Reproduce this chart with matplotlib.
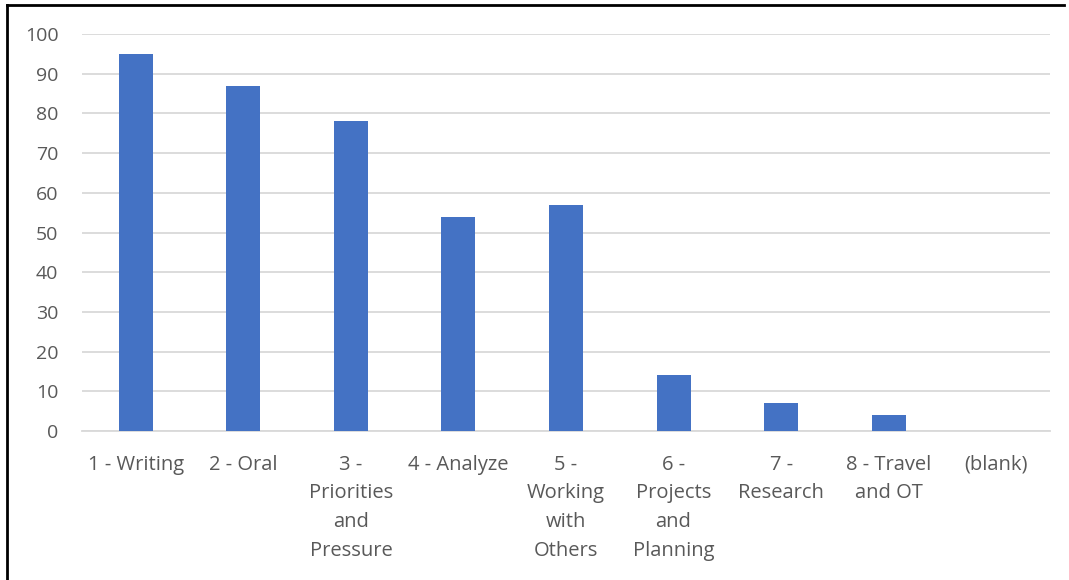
import matplotlib.pyplot as plt
from matplotlib.lines import Line2D

categories = [
    "1 - Writing",
    "2 - Oral",
    "3 -\nPriorities\nand\nPressure",
    "4 - Analyze",
    "5 -\nWorking\nwith\nOthers",
    "6 -\nProjects\nand\nPlanning",
    "7 -\nResearch",
    "8 - Travel\nand OT",
    "(blank)",
]
counts = [95, 87, 78, 54, 57, 14, 7, 4, 0]
y_ticks = list(range(0, 101, 10))

BAR = "#4472C4"
GRID = "#D9D9D9"
TEXT = "#595959"

plt.rcParams["font.family"] = ["Open Sans", "DejaVu Sans"]

fig = plt.figure(figsize=(10.69, 5.80), dpi=100)
ax = fig.add_axes([82 / 1069, 1 - 431 / 580, 968 / 1069, 397 / 580])

x = range(len(categories))
ax.bar(x, counts, width=0.316, color=BAR, zorder=3)
ax.set_xlim(-0.5, len(categories) - 0.5)
ax.set_ylim(0, 100)
ax.set_yticks(y_ticks)
ax.set_xticks(list(x))
ax.set_xticklabels(categories, linespacing=1.58, va="top")
ax.grid(axis="y", color=GRID, linewidth=1.3, zorder=0)
for side in ("top", "right", "left"):
    ax.spines[side].set_visible(False)
ax.spines["bottom"].set_color(GRID)
ax.spines["bottom"].set_linewidth(1.3)
ax.tick_params(axis="both", length=0, labelcolor=TEXT)
ax.tick_params(axis="y", pad=17, labelsize=14)
ax.tick_params(axis="x", pad=17, labelsize=14.5)

# outer frame (top and left edges visible in the crop)
fig.add_artist(Line2D([6.5 / 1069, 6.5 / 1069], [0, 1 - 5 / 580], transform=fig.transFigure, color="black", linewidth=2))
fig.add_artist(Line2D([6.5 / 1069, 1064 / 1069], [1 - 5 / 580, 1 - 5 / 580], transform=fig.transFigure, color="black", linewidth=2))

fig.savefig("out.png", dpi=100)
